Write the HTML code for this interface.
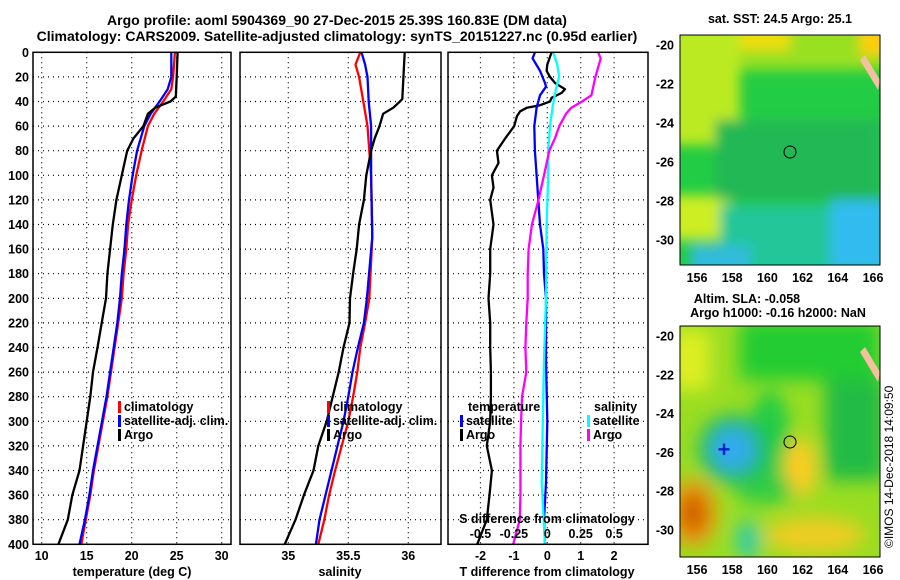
<!DOCTYPE html>
<html><head><meta charset="utf-8">
<style>
html,body{margin:0;padding:0;background:#fff;}
svg{display:block;font-family:"Liberation Sans",sans-serif;font-weight:bold;}
text{font-size:12.5px;fill:#000;}
</style></head>
<body>
<svg id="fig" width="900" height="580" viewBox="0 0 900 580">
<defs>
<filter id="bl" filterUnits="userSpaceOnUse" x="600" y="0" width="300" height="580"><feGaussianBlur stdDeviation="9"/></filter>
<filter id="bl2" filterUnits="userSpaceOnUse" x="600" y="0" width="300" height="580"><feGaussianBlur stdDeviation="6"/></filter>
<clipPath id="c1"><rect x="680" y="35" width="200" height="230"/></clipPath>
<clipPath id="c2"><rect x="680" y="326" width="200" height="231"/></clipPath>
</defs>
<text x="337" y="25" text-anchor="middle" style="font-size:14px">Argo profile: aoml 5904369_90 27-Dec-2015 25.39S 160.83E (DM data)</text>
<text x="337" y="41" text-anchor="middle" style="font-size:14px">Climatology: CARS2009. Satellite-adjusted climatology: synTS_20151227.nc (0.95d earlier)</text>
<g id="panels"></g>
<g clip-path="url(#c1)">
<rect x="680" y="35" width="200" height="230" fill="#22cc44"/>
<g filter="url(#bl2)">
<rect x="670" y="25" width="220" height="45" fill="#99e022"/>
<rect x="670" y="25" width="70" height="120" fill="#bbea22"/>
<rect x="740" y="25" width="50" height="25" fill="#eedd11"/>
<rect x="860" y="25" width="30" height="30" fill="#ffcc11"/>
<rect x="670" y="195" width="60" height="45" fill="#ccee22"/>
<rect x="715" y="120" width="165" height="80" fill="#22b855"/>
<rect x="720" y="205" width="170" height="70" fill="#22c699"/>
<rect x="690" y="245" width="60" height="30" fill="#33bbdd"/>
<rect x="830" y="200" width="60" height="70" fill="#33bbee"/>
</g>
</g>
<g clip-path="url(#c2)">
<rect x="680" y="326" width="200" height="231" fill="#99dd22"/>
<g filter="url(#bl)">
<rect x="740" y="320" width="140" height="60" fill="#22cc33"/>
<rect x="825" y="380" width="60" height="100" fill="#22bb44"/>
<ellipse cx="770" cy="440" rx="20" ry="50" fill="#22cc44"/>
<rect x="670" y="330" width="40" height="60" fill="#ddee22"/>
<ellipse cx="800" cy="468" rx="16" ry="30" fill="#ffcc22"/>
<ellipse cx="815" cy="535" rx="50" ry="18" fill="#eecc22"/>
<ellipse cx="765" cy="490" rx="30" ry="14" fill="#33cc44"/>
<ellipse cx="693" cy="513" rx="24" ry="34" fill="#ee9911"/>
<ellipse cx="693" cy="513" rx="12" ry="20" fill="#cc5500"/>
<ellipse cx="733" cy="449" rx="35" ry="35" fill="#22bb66"/>
<ellipse cx="733" cy="449" rx="22" ry="22" fill="#33aaee"/>
<ellipse cx="748" cy="540" rx="12" ry="20" fill="#33ccaa"/>
</g>
</g>
<path d="M860 60 L878 90 L880 80 L865 55Z" fill="#f5c0a0"/>
<path d="M860 352 L878 382 L880 372 L865 347Z" fill="#f5c0a0"/>
<circle cx="790" cy="152" r="6" fill="none" stroke="#000"/>
<circle cx="790" cy="442" r="6" fill="none" stroke="#000"/>
<text x="724" y="457" text-anchor="middle" style="font-size:22px;fill:#0022cc">+</text>
<rect x="680" y="35" width="200" height="230" fill="none" stroke="#000"/>
<rect x="680" y="326" width="200" height="231" fill="none" stroke="#000"/>
<text x="780" y="23" text-anchor="middle">sat. SST: 24.5 Argo: 25.1</text>
<text x="747" y="303" text-anchor="middle">Altim. SLA: -0.058</text>
<text x="778" y="317" text-anchor="middle">Argo h1000: -0.16 h2000: NaN</text>
<text transform="translate(893,548) rotate(-90)" style="font-size:12px;font-weight:normal">©IMOS 14-Dec-2018 14:09:50</text>
<g id="mapaxes"></g>
</svg>
<script>
const depthTicks=[0,20,40,60,80,100,120,140,160,180,200,220,240,260,280,300,320,340,360,380,400];
const tTicks=[10,15,20,25,30];
const sTicks=[35,35.5,36];
const dTicks=[-2,-1,0,1,2];
const sdTickLabels=["-0.5","-0.25","0","0.25","0.5"];
const sdTickValues=[-0.5,-0.25,0,0.25,0.5];
const climDepth=[0,20,30,40,50,60,80,100,120,140,160,180,200,220,240,260,280,300,320,340,360,380,400];
const tClim=[24.8,24.6,24.4,23.5,22.5,21.8,21.1,20.5,20.0,19.6,19.4,19.1,18.9,18.5,18.1,17.7,17.3,16.8,16.3,15.8,15.4,14.9,14.4];
const tSat=[24.4,24.4,24.0,23.1,22.1,21.4,20.6,20.1,19.7,19.4,19.2,18.9,18.7,18.4,18.0,17.6,17.2,16.7,16.2,15.7,15.3,14.8,14.2];
const argoDepth=[0,20,36,40,45,50,60,70,80,100,120,140,160,180,200,220,240,260,280,300,320,340,360,380,400];
const tArgo=[25.1,25.0,24.9,24.3,22.6,21.8,21.3,20.2,19.5,18.9,18.3,17.9,17.6,17.3,17.15,16.67,16.2,15.7,15.4,15.0,14.6,14.2,13.4,12.9,11.85];
const sClimDepth=[0,10,20,40,60,80,100,150,200,220,240,260,280,300,320,340,360,380,400];
const sClim=[35.60,35.56,35.59,35.625,35.66,35.675,35.69,35.70,35.675,35.64,35.60,35.575,35.54,35.50,35.445,35.39,35.34,35.30,35.25];
const sSat=[35.61,35.64,35.66,35.67,35.69,35.69,35.69,35.70,35.655,35.63,35.58,35.535,35.50,35.46,35.41,35.36,35.31,35.26,35.23];
const sArgoDepth=[0,38,40,45,50,60,70,80,100,120,140,160,180,200,220,240,260,280,300,320,340,360,380,400];
const sArgo=[35.97,35.95,35.93,35.875,35.79,35.76,35.72,35.69,35.65,35.63,35.59,35.57,35.54,35.514,35.51,35.46,35.42,35.37,35.32,35.25,35.21,35.13,35.06,34.97];
const diffDepth=[0,10,15,20,25,30,33,37,40,43,45,48,52,60,70,80,90,100,110,120,140,160,180,200,220,240,260,280,300,320,340,360,380,400];
const tDiffArgo=[0.13,0,-0.02,0.08,0.23,0.53,0.43,0.13,0.08,-0.22,-0.61,-0.81,-0.91,-0.99,-1.26,-1.51,-1.46,-1.66,-1.61,-1.71,-1.61,-1.71,-1.71,-1.76,-1.71,-1.71,-1.69,-1.69,-1.71,-1.81,-1.66,-1.73,-1.81,-2.1];
const sdDepth=[0,5,15,25,28,35,45,60,80,100,120,140,160,180,200,250,300,350,380,400];
const tDiffSat=[-0.37,-0.44,-0.22,-0.07,-0.04,-0.22,-0.32,-0.39,-0.37,-0.32,-0.27,-0.22,-0.12,-0.1,-0.04,-0.04,0,-0.04,-0.1,-0.07];
const sdDepth2=[0,10,20,30,45,60,80,100,140,200,250,300,350,400];
const sDiffSat=[0.045,0.074,0.088,0.064,0.039,0.020,0.007,0.007,-0.005,-0.010,-0.025,-0.034,-0.042,-0.017];
const sdDepth3=[0,5,20,35,40,45,50,60,70,80,100,120,140,160,180,200,220,240,260,280,300,320,340,360,380,400];
const sDiffArgo=[0.38,0.40,0.36,0.33,0.26,0.18,0.14,0.09,0.057,0.015,-0.025,-0.066,-0.115,-0.140,-0.147,-0.147,-0.157,-0.164,-0.157,-0.189,-0.196,-0.201,-0.201,-0.201,-0.206,-0.255];
const lonTicks=[156,158,160,162,164,166];
const latTicks=[-20,-22,-24,-26,-28,-30];

const NS='http://www.w3.org/2000/svg';
const G=document.getElementById('panels');
function el(tag,attrs,parent,txt){const e=document.createElementNS(NS,tag);for(const k in attrs)e.setAttribute(k,attrs[k]);if(txt!==undefined)e.textContent=txt;(parent||G).appendChild(e);return e;}
const Y0=52.3,YS=1.23;
const yD=d=>Y0+d*YS;
const xT=t=>41.7+(t-10)*9;
const xS=s=>288.3+(s-35)*120;
const xTd=t=>547.3+t*33.4;
const xSd=s=>547.3+s*133.6;
const P=[{x0:33,x1:231},{x0:240,x1:441},{x0:448,x1:648}];
function grid(p,xs){
  depthTicks.forEach((d,i)=>{if(i===0||i===depthTicks.length-1)return;
    const l=el('line',{x1:p.x0,x2:p.x1,y1:yD(d),y2:yD(d),stroke:'#000','stroke-dasharray':'1,4','stroke-width':1.2});
    
    });
  xs.forEach(x=>{const l=el('line',{x1:x,x2:x,y1:yD(0),y2:yD(400),stroke:'#000','stroke-dasharray':'1,4','stroke-width':1.2});
    
    });
}
function line(ds,vs,fx,color,name){
  const pts=ds.map((d,i)=>fx(vs[i]).toFixed(1)+','+yD(d).toFixed(1)).join(' ');
  const l=el('polyline',{points:pts,fill:'none',stroke:color,'stroke-width':2.3,'stroke-linejoin':'round'});
  
  
}
function frame(p,name){const r=el('rect',{x:p.x0,y:yD(0),width:p.x1-p.x0,height:yD(400)-yD(0),fill:'none',stroke:'#000','stroke-width':1.5});
  
  }
function txt(x,y,s,name,anchor,color){const t=el('text',{x:x,y:y,'text-anchor':anchor||'start'},G,s);if(color)t.style.fill=color;
  
  return t;}
function legendMark(x,y,color){const r=el('rect',{x:x,y:y-10,width:3,height:12,fill:color});
  
  }

grid(P[0],tTicks.map(xT));
line(climDepth,tClim,xT,'#ff0000','temp-climatology-line');
line(climDepth,tSat,xT,'#0000ff','temp-satellite-line');
line(argoDepth,tArgo,xT,'#000','temp-argo-line');
frame(P[0],'temperature-panel');
depthTicks.forEach(d=>txt(29,yD(d)+4.5,String(d),'depth-tick-label','end'));
tTicks.forEach(t=>txt(xT(t),560,String(t),'temp-tick-label','middle'));
txt(132,576,'temperature (deg C)','temp-axis-title','middle');
legendMark(118,411,'#ff0000');txt(124,411,'climatology','legend-climatology');
legendMark(118,425,'#0000ff');txt(124,425,'satellite-adj. clim.','legend-satellite');
legendMark(118,439,'#000');txt(124,439,'Argo','legend-argo');

grid(P[1],sTicks.map(xS));
line(sClimDepth,sClim,xS,'#ff0000','sal-climatology-line');
line(sClimDepth,sSat,xS,'#0000ff','sal-satellite-line');
line(sArgoDepth,sArgo,xS,'#000','sal-argo-line');
frame(P[1],'salinity-panel');
sTicks.forEach(s=>txt(xS(s),560,String(s),'sal-tick-label','middle'));
txt(340,576,'salinity','sal-axis-title','middle');
legendMark(327,411,'#ff0000');txt(333,411,'climatology','legend-climatology');
legendMark(327,425,'#0000ff');txt(333,425,'satellite-adj. clim.','legend-satellite');
legendMark(327,439,'#000');txt(333,439,'Argo','legend-argo');

grid(P[2],dTicks.map(xTd));
line(diffDepth,tDiffArgo,xTd,'#000','tdiff-argo-line');
line(sdDepth,tDiffSat,xTd,'#0000ff','tdiff-satellite-line');
line(sdDepth2,sDiffSat,xSd,'#00ffff','sdiff-satellite-line');
line(sdDepth3,sDiffArgo,xSd,'#ff00ff','sdiff-argo-line');
frame(P[2],'difference-panel');
dTicks.forEach(t=>txt(xTd(t),560,String(t),'tdiff-tick-label','middle'));
txt(547,576,'T difference from climatology','tdiff-axis-title','middle');
txt(547,523,'S difference from climatology','sdiff-axis-title','middle');
sdTickValues.forEach((v,i)=>txt(xSd(v),538,sdTickLabels[i],'sdiff-tick-label','middle'));
txt(468,411,'temperature','legend-temperature-header');
legendMark(460,425,'#0000ff');txt(466,425,'satellite','legend-t-satellite');
legendMark(460,439,'#000');txt(466,439,'Argo','legend-t-argo');
txt(594,411,'salinity','legend-salinity-header');
legendMark(587,425,'#00ffff');txt(593,425,'satellite','legend-s-satellite');
legendMark(587,439,'#ff00ff');txt(593,439,'Argo','legend-s-argo');

const MA=document.getElementById('mapaxes');
const xLon=l=>697+(l-156)*17.6;
[[45,19.5,265,'sst'],[336,19.4,557,'sla']].forEach(([y20,ps,yb,nm])=>{
  lonTicks.forEach(l=>{const t=el('text',{x:xLon(l),y:yb+17,'text-anchor':'middle'},MA,String(l));
    
    });
  latTicks.forEach(a=>{const y=y20+(-20-a)*ps;const t=el('text',{x:674,y:y+4.5,'text-anchor':'end'},MA,String(a));
    
    });
});
</script>
</body></html>
